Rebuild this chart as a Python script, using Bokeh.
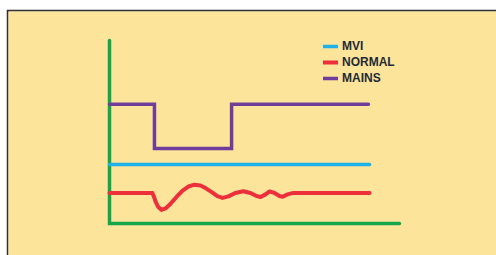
from bokeh.plotting import figure
from bokeh.models import Legend, LegendItem, Range1d
from bokeh.embed import file_html
from bokeh.resources import INLINE

# Axis frame (green L shape)
axis_x = [0, 0, 10]
axis_y = [10, 0, 0]

# MVI: flat
mvi_x = [0, 8.97]
mvi_y = [3.22, 3.22]

# MAINS: step down and back up
mains_x = [0, 1.55, 1.55, 4.21, 4.21, 8.93]
mains_y = [6.52, 6.52, 4.10, 4.10, 6.52, 6.52]

# NORMAL: damped oscillation after the dip
normal_x = [0, 1.48, 1.53, 1.59, 1.67, 1.79, 1.93, 2.10, 2.31, 2.52, 2.72, 2.93,
            3.14, 3.34, 3.55, 3.72, 3.90, 4.10, 4.34, 4.62, 4.86, 5.07, 5.21,
            5.38, 5.52, 5.69, 5.86, 5.97, 6.14, 6.34, 8.97]
normal_y = [1.67, 1.67, 1.48, 1.20, 0.93, 0.74, 0.82, 1.07, 1.45, 1.80, 2.02, 2.12,
            2.08, 1.91, 1.69, 1.50, 1.40, 1.48, 1.67, 1.76, 1.67, 1.50, 1.45,
            1.59, 1.75, 1.67, 1.50, 1.46, 1.59, 1.67, 1.67]

labels = ["MVI", "NORMAL", "MAINS"]

p = figure(width=490, height=246, output_backend="svg", toolbar_location=None,
           x_range=Range1d(-3.483, 13.345), y_range=Range1d(-1.749, 11.585),
           x_axis_type=None, y_axis_type=None,
           min_border_left=2, min_border_top=2, min_border_right=0, min_border_bottom=0)
p.margin = (9, 0, 0, 6)
p.grid.visible = False
p.background_fill_color = "#FDE49B"
p.border_fill_color = "#2f2f2f"
p.outline_line_color = None

p.line(axis_x, axis_y, line_color="#14a64b", line_width=3.5,
       line_cap="round", line_join="miter")
r_mvi = p.line(mvi_x, mvi_y, line_color="#1db1e8", line_width=3.5, line_cap="round")
r_normal = p.line(normal_x, normal_y, line_color="#ec2f3b", line_width=4,
                  line_cap="round", line_join="round")
r_mains = p.line(mains_x, mains_y, line_color="#6e3e9a", line_width=3.5,
                 line_cap="round", line_join="miter")

legend = Legend(items=[LegendItem(label=labels[0], renderers=[r_mvi]),
                       LegendItem(label=labels[1], renderers=[r_normal]),
                       LegendItem(label=labels[2], renderers=[r_mains])],
                location=(315, 169))
legend.background_fill_alpha = 0
legend.border_line_color = None
legend.padding = 0
legend.margin = 0
legend.spacing = 0
legend.glyph_width = 15
legend.glyph_height = 16
legend.label_height = 16
legend.label_standoff = 4
legend.label_text_font = "Liberation Sans"
legend.label_text_font_style = "bold"
legend.label_text_font_size = "12px"
legend.label_text_color = "#1f2a35"
legend.label_text_baseline = "middle"
p.add_layout(legend, "center")

open("out.html", "w").write(file_html(p, INLINE))
